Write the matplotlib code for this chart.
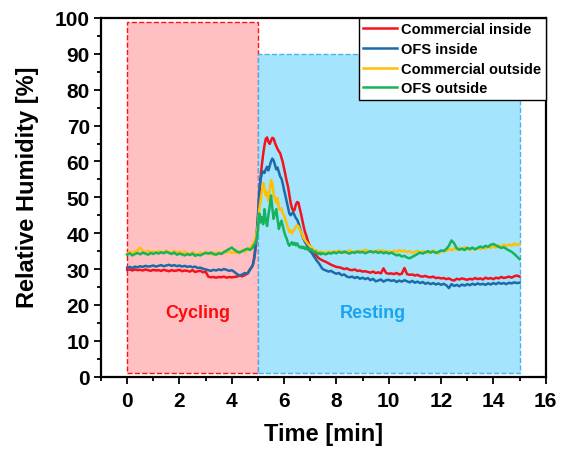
import numpy as np
import matplotlib
matplotlib.use("Agg")
import matplotlib.pyplot as plt
from matplotlib.patches import Rectangle
from matplotlib.ticker import MultipleLocator

plt.rcParams["font.family"] = ["Liberation Sans", "DejaVu Sans"]
plt.rcParams["font.weight"] = "bold"

# sampling grid: coarse before/after the burst, finer around it
t_pre = np.linspace(0.0, 4.7, 48)
t_peak = np.linspace(4.8, 7.5, 55)
t_post = np.linspace(7.6, 15.0, 75)
time_min = np.concatenate([t_pre, t_peak, t_post])

commercial_inside = [
    # 0.0 - 4.7
    29.8, 29.9, 29.6, 29.9, 29.7, 29.8, 29.6, 29.9, 29.7, 29.5, 29.8, 29.6,
    29.7, 29.5, 29.8, 29.6, 29.4, 29.7, 29.5, 29.6, 29.8, 29.4, 29.6, 29.5,
    29.3, 29.7, 29.2, 29.4, 29.5, 29.1, 29.3, 27.9, 27.7, 27.8, 27.6, 27.8,
    27.7, 27.9, 27.6, 27.8, 27.7, 27.8, 27.9, 28.2, 28.0, 28.3, 28.8, 30.0,
    # 4.8 - 7.5
    31.0, 33.0, 36.0, 39.0, 44.0, 50.0, 55.5, 59.0, 62.0, 64.5, 66.3,
    66.7, 65.5, 64.9, 65.8, 66.6, 66.4, 65.2, 64.3, 63.5, 62.8, 62.3,
    61.0, 59.8, 58.0, 56.2, 54.5, 53.0, 50.8, 48.5, 47.0, 46.2, 46.5,
    48.0, 48.7, 48.5, 46.8, 45.3, 43.5, 41.8, 40.3, 39.3, 38.0, 37.0,
    36.2, 35.5, 35.1, 34.5, 34.0, 33.6, 33.2, 32.9, 32.7, 32.5, 32.3,
    # 7.6 - 15.0
    32.0, 31.6, 31.2, 30.9, 30.6, 30.5, 30.3, 30.0, 30.2, 29.8,
    29.7, 29.9, 29.5, 29.6, 29.3, 29.4, 29.2, 29.0, 29.3, 28.9,
    29.1, 28.8, 30.2, 28.9, 28.7, 28.8, 28.6, 28.9, 28.5, 28.7,
    30.3, 28.6, 28.4, 28.5, 28.2, 28.4, 28.0, 27.9, 28.1, 27.8,
    27.7, 27.9, 27.5, 27.6, 27.4, 27.5, 27.2, 27.4, 27.0, 26.8,
    27.3, 27.1, 27.4, 27.2, 27.0, 27.3, 27.1, 27.5, 27.2, 27.4,
    27.1, 27.6, 27.3, 27.5, 27.2, 27.6, 27.4, 27.8, 27.5, 27.7,
    27.9, 27.6, 28.0, 28.2, 27.9,
]

ofs_inside = [
    30.4, 30.6, 30.3, 30.7, 30.5, 30.8, 30.6, 30.9, 30.7, 30.8, 31.0, 30.7,
    30.9, 31.1, 30.8, 31.0, 31.2, 30.9, 31.1, 30.8, 31.0, 30.7, 30.9, 30.6,
    30.8, 30.5, 30.7, 30.3, 30.4, 30.1, 29.9, 29.7, 29.5, 29.8, 29.6, 29.9,
    29.7, 30.0, 29.8, 29.5, 29.7, 29.2, 28.6, 28.2, 28.5, 28.9, 28.7, 29.8,
    31.0, 32.5, 35.0, 39.5, 45.0, 52.0, 55.0, 56.5, 57.2, 56.8, 57.8,
    58.5, 57.5, 58.8, 60.0, 60.8, 60.3, 59.0, 57.8, 58.3, 57.0, 55.8,
    55.2, 53.8, 52.0, 50.5, 48.8, 47.2, 45.5, 45.0, 45.5, 45.8, 45.0,
    44.2, 43.8, 42.8, 41.5, 40.3, 39.2, 38.3, 37.5, 37.0, 36.0, 35.3,
    34.9, 34.6, 34.0, 33.4, 32.9, 32.3, 31.9, 31.4, 30.8, 30.2, 29.9,
    29.6, 29.3, 29.5, 29.0, 28.7, 28.9, 28.3, 28.5, 27.9, 27.7,
    27.9, 27.5, 27.8, 27.3, 27.6, 27.2, 27.5, 26.9, 27.3, 26.6,
    26.8, 27.1, 26.5, 26.9, 27.0, 26.7, 26.9, 26.4, 26.8, 26.5,
    26.9, 26.6, 26.3, 26.7, 26.2, 26.5, 26.1, 26.4, 25.9, 26.2,
    25.8, 26.1, 25.7, 26.0, 25.6, 25.9, 25.5, 24.7, 25.8, 25.3,
    25.6, 25.2, 25.7, 25.4, 25.8, 25.5, 25.9, 25.6, 26.0, 25.7,
    25.9, 25.6, 26.0, 25.7, 26.1, 25.8, 26.2, 25.9, 26.1, 25.8,
    26.2, 26.0, 26.3, 26.1, 26.2,
]

commercial_outside = [
    34.3, 34.8, 34.5, 34.9, 35.2, 36.0, 35.0, 34.6, 35.1, 34.7, 34.9, 34.5,
    35.0, 34.6, 34.8, 35.2, 34.7, 34.5, 35.0, 34.6, 34.9, 34.4, 34.8, 34.5,
    34.2, 34.7, 34.4, 34.0, 34.6, 34.3, 34.8, 34.5, 34.1, 34.6, 34.3, 34.7,
    34.4, 34.9, 34.6, 35.0, 34.5, 34.8, 34.4, 34.9, 35.2, 34.8, 35.4, 36.0,
    36.8, 37.5, 38.5, 40.0, 42.0, 46.5, 49.0, 51.5, 54.0, 52.5, 50.5,
    51.5, 49.0, 52.0, 54.8, 54.0, 51.0, 49.5, 48.5, 49.8, 47.0, 46.5,
    47.0, 45.5, 45.0, 43.8, 42.5, 41.5, 40.3, 40.8, 40.0, 40.6, 41.2,
    41.8, 42.2, 41.9, 41.0, 40.2, 39.5, 38.6, 38.0, 37.6, 37.1, 36.7,
    36.3, 36.0, 35.6, 35.3, 35.0, 35.2, 34.8, 34.6, 34.9, 34.5, 34.7,
    34.5, 34.9, 34.6, 35.0, 34.7, 35.2, 34.8, 34.5, 34.9, 35.3,
    34.7, 35.0, 34.6, 35.2, 34.9, 35.4, 35.0, 34.7, 35.1, 34.8,
    35.3, 34.9, 35.2, 34.8, 35.0, 34.6, 35.1, 34.8, 35.3, 34.9,
    35.2, 34.7, 35.0, 34.5, 34.8, 35.1, 34.6, 35.0, 34.7, 34.4,
    34.8, 35.2, 34.6, 34.3, 34.9, 35.3, 35.0, 35.6, 35.2, 35.8,
    35.4, 35.9, 35.5, 36.1, 35.7, 35.3, 35.8, 35.4, 35.9, 35.6,
    36.0, 35.7, 36.3, 35.9, 36.4, 36.0, 36.6, 36.2, 36.8, 36.4,
    36.9, 36.5, 37.1, 36.7, 37.0,
]

ofs_outside = [
    34.0, 34.4, 33.8, 34.2, 34.5, 34.1, 34.6, 34.3, 34.0, 34.5, 34.2, 34.6,
    34.3, 34.7, 34.4, 34.8, 34.5, 34.2, 34.6, 34.0, 34.3, 34.1, 33.8, 34.2,
    33.9, 34.3, 33.7, 34.0, 33.8, 34.2, 34.5, 34.3, 34.6, 34.2, 34.0, 34.4,
    34.2, 34.7, 35.2, 35.6, 36.0, 35.4, 34.9, 34.6, 35.0, 35.4, 35.7, 35.3,
    36.0, 36.8, 37.2, 38.5, 41.0, 45.5, 43.0, 44.5, 42.5, 46.7, 43.5,
    42.0, 45.0, 47.5, 50.5, 47.0, 44.0, 45.5, 46.7, 44.0, 41.2, 42.5,
    43.5, 42.0, 40.5, 39.3, 38.5, 37.2, 36.5, 37.0, 37.5, 36.8, 37.3,
    36.6, 37.2, 36.4, 36.0, 36.3, 35.8, 36.2, 35.6, 36.0, 35.4, 35.7,
    35.2, 35.5, 35.0, 34.7, 34.9, 34.4, 34.2, 34.5, 34.1, 34.4, 34.3,
    34.1, 34.5, 34.3, 34.7, 34.4, 34.8, 34.5, 34.9, 34.6, 34.3,
    34.7, 34.5, 34.9, 34.6, 34.8, 34.4, 34.7, 35.0, 34.6, 34.9,
    34.5, 34.8, 34.4, 34.7, 34.3, 34.6, 34.2, 33.8, 34.0, 33.5,
    33.7, 33.2, 33.0, 33.4, 33.8, 34.2, 34.6, 34.3, 34.7, 35.0,
    34.6, 34.9, 34.5, 34.8, 35.2, 35.0, 35.6, 36.5, 38.0, 37.2,
    35.8, 35.4, 35.7, 35.3, 35.9, 35.6, 36.0, 35.5, 35.9, 36.3,
    36.0, 36.5, 36.2, 36.8, 37.0, 36.6, 36.2, 35.9, 36.1, 35.6,
    35.2, 34.8, 34.2, 33.5, 32.8,
]

series_labels = ["Commercial inside", "OFS inside", "Commercial outside", "OFS outside"]
series_colors = ["#f5121c", "#1c6aa8", "#ffc000", "#16b35e"]

# phases: (start, end, top of shaded band)
cycling_phase = (0.0, 5.0, 99.0)
resting_phase = (5.0, 15.0, 90.0)

fig = plt.figure(figsize=(5.66, 4.52), dpi=100)
ax = fig.add_axes([0.1784, 0.1644, 0.7857, 0.7936])

for (t0, t1, top), face, edge in [
    (cycling_phase, "#ffc0c3", "#ff1010"),
    (resting_phase, "#a4e4fc", "#45b2f2"),
]:
    ax.add_patch(Rectangle((t0, 1.0), t1 - t0, top - 1.0, facecolor=face,
                           edgecolor=edge, linestyle="--", linewidth=1.0, zorder=1))

for ys, lab, col in zip([commercial_inside, ofs_inside, commercial_outside, ofs_outside],
                        series_labels, series_colors):
    ax.plot(time_min, ys, color=col, linewidth=1.8, label=lab, zorder=3)

ax.text(2.7, 18, "Cycling", color="#ff0a0a", fontsize=13, fontweight="bold",
        ha="center", va="center", zorder=4)
ax.text(9.4, 18, "Resting", color="#1aa3ef", fontsize=13, fontweight="bold",
        ha="center", va="center", zorder=4)

ax.set_xlim(-1, 16)
ax.set_ylim(0, 100)
ax.xaxis.set_major_locator(MultipleLocator(2))
ax.xaxis.set_minor_locator(MultipleLocator(1))
ax.yaxis.set_major_locator(MultipleLocator(10))
ax.yaxis.set_minor_locator(MultipleLocator(5))
ax.tick_params(which="major", direction="out", length=5, width=1.3, labelsize=15)
ax.tick_params(axis="x", which="major", pad=5)
ax.tick_params(axis="y", which="major", pad=3)
ax.tick_params(which="minor", direction="out", length=3, width=1.3)
for sp in ax.spines.values():
    sp.set_linewidth(1.6)

ax.set_xlabel("Time [min]", fontsize=17, fontweight="bold", labelpad=9)
ax.set_ylabel("Relative Humidity [%]", fontsize=17, fontweight="bold")
ax.yaxis.set_label_coords(-0.14, 0.532)

leg = ax.legend(loc="upper right", borderaxespad=0.0, fancybox=False, framealpha=1,
                edgecolor="black", prop={"weight": "bold", "size": 10.5},
                handlelength=2.3, handletextpad=0.3, labelspacing=0.39,
                borderpad=0.3)
leg.get_frame().set_linewidth(1.0)
leg.set_zorder(5)

fig.savefig("out.png", dpi=100)
